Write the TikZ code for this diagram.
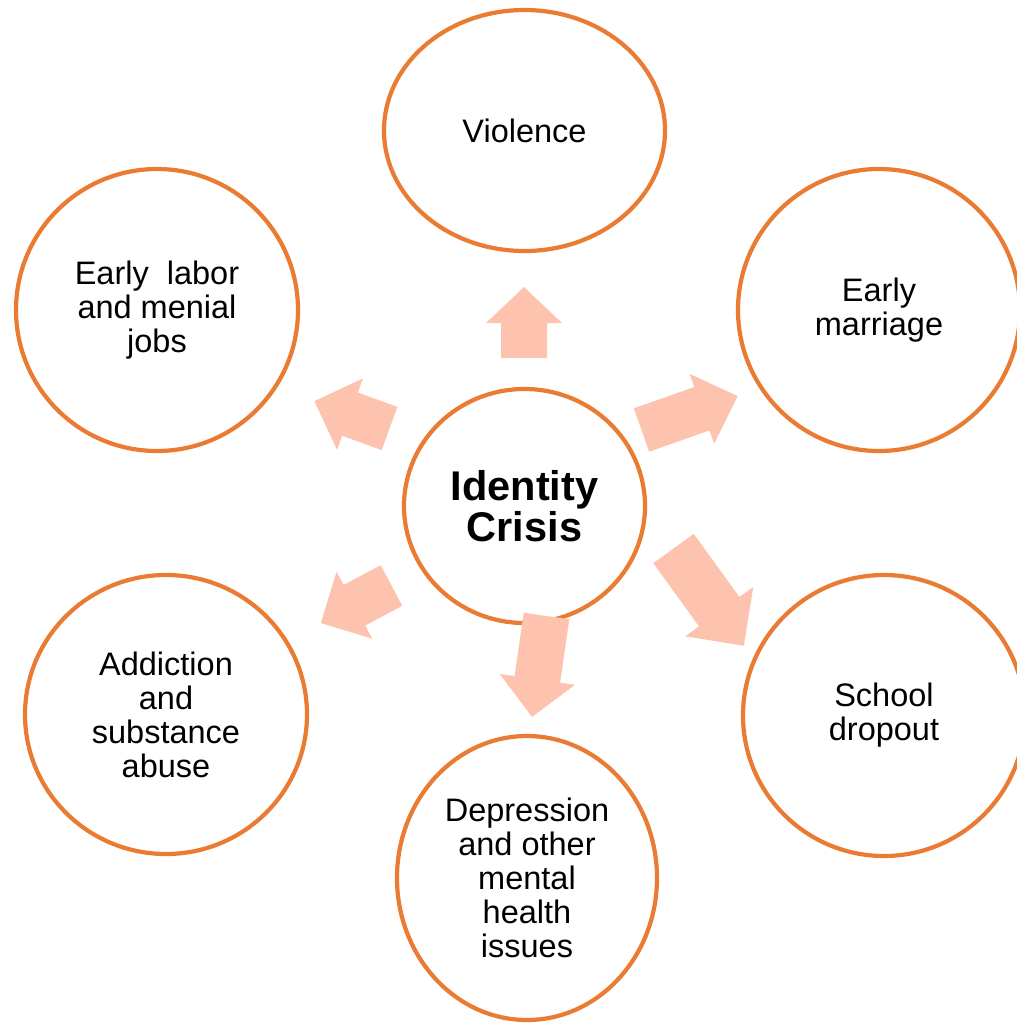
\documentclass[tikz,border=0pt]{standalone}
\usepackage{fontspec}
\setmainfont{Liberation Sans}
\usetikzlibrary{shapes.geometric}
\definecolor{ringorange}{HTML}{E97B32}
\definecolor{arrowpink}{HTML}{FDC3AE}
\newcommand\blockarrow[7]{%
  \fill[arrowfill,shift={(#1,#2)},rotate=#3]
    (0,-#5) -- ({#4-#7},-#5) -- ({#4-#7},-#6) -- (#4,0)
    -- ({#4-#7},#6) -- ({#4-#7},#5) -- (0,#5) -- cycle;}
\tikzset{
  ring/.style={ellipse, draw=ringorange, line width=4.2pt, fill=white,
    inner sep=0pt, align=center, text=black,
    font=\fontsize{32.5}{34}\selectfont},
  hub/.style={ring, font=\fontsize{41.5}{41.5}\selectfont\bfseries},
  arrowfill/.style={fill=arrowpink}
}
\begin{document}
\begin{tikzpicture}[x=1pt,y=-1pt]
\useasboundingbox (0,0) rectangle (1017,1026);
\clip (0,0) rectangle (1017,1026);
\node[ring, minimum width=281pt, minimum height=241pt] (vio) at (524.5,130.5) {Violence};
\node[ring, minimum width=282pt, minimum height=282pt] (labor) at (157,310) {Early\ \ labor\\and menial\\jobs};
\node[ring, minimum width=282pt, minimum height=282pt] (marr) at (879,310) {Early\\marriage};
\node[hub, minimum width=241pt, minimum height=234pt] (id) at (524.5,506) {Identity\\Crisis};
\node[ring, minimum width=282pt, minimum height=279pt] (addic) at (166,714.5) {Addiction\\and\\substance\\abuse};
\node[ring, minimum width=282pt, minimum height=281pt] (school) at (884,715.5) {School\\dropout};
\node[ring, minimum width=260pt, minimum height=284pt] (dep) at (527,878) {Depression\\and other\\mental\\health\\issues};
\blockarrow{524}{358}{90}{71}{23}{38}{36}
\blockarrow{641.5}{430}{19.4}{102}{23}{37}{38}
\blockarrow{389.5}{428.5}{160}{80}{23}{38}{38}
\blockarrow{391.5}{585.5}{208}{80}{23}{38}{38}
\blockarrow{546.5}{616}{261.8}{102}{23}{38}{38}
\blockarrow{673.5}{548.5}{-54.1}{120}{25}{42}{42}
\end{tikzpicture}
\end{document}
